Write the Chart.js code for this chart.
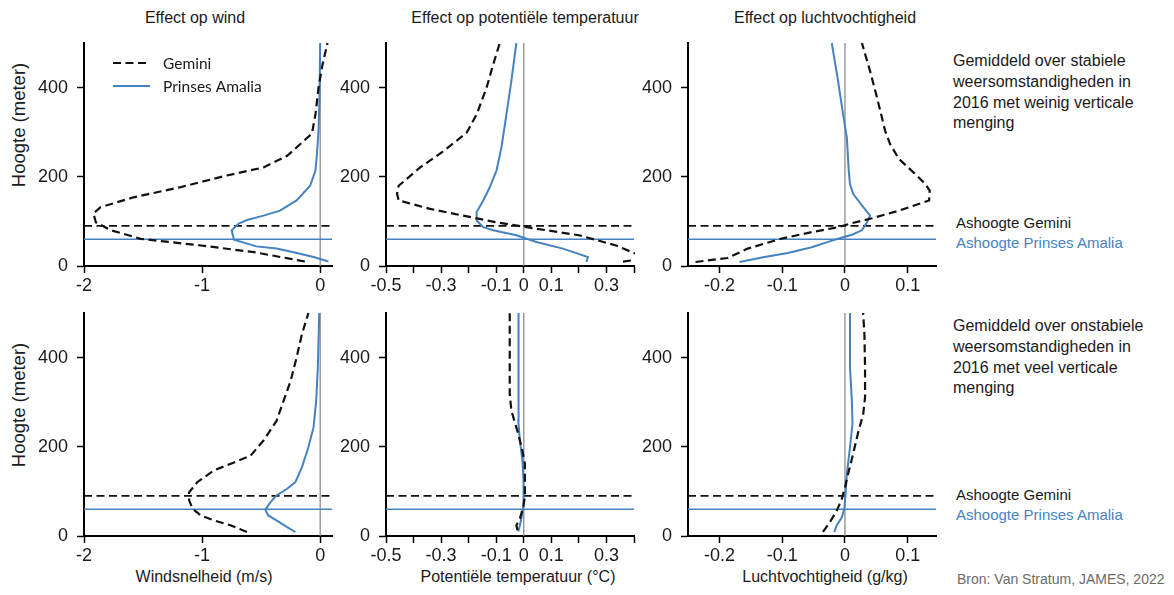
<!DOCTYPE html>
<html><head><meta charset="utf-8">
<script src="https://cdn.jsdelivr.net/npm/chart.js@4.4.1/dist/chart.umd.min.js"></script>
<style>
html,body{margin:0;padding:0;background:#fff;width:1174px;height:595px;overflow:hidden;font-family:'Liberation Sans',Arial,sans-serif;color:#1a1a1a;}
canvas{position:absolute;}
.t{position:absolute;white-space:nowrap;}
.ctr{transform:translate(-50%,-50%);}
.rot{transform:translate(-50%,-50%) rotate(-90deg);}
</style></head><body>

<div class="t ctr" style="left:195px;top:18px;font-size:16px;">Effect op wind</div>
<div class="t ctr" style="left:525px;top:18px;font-size:16px;">Effect op potentiële temperatuur</div>
<div class="t ctr" style="left:825px;top:18px;font-size:16px;">Effect op luchtvochtigheid</div>

<div class="t rot" style="left:19px;top:125px;font-size:18.5px;">Hoogte (meter)</div>
<div class="t rot" style="left:19px;top:405px;font-size:18.5px;">Hoogte (meter)</div>

<div class="t ctr" style="left:204px;top:577px;font-size:16px;">Windsnelheid (m/s)</div>
<div class="t ctr" style="left:518px;top:577px;font-size:16px;">Potentiële temperatuur (°C)</div>
<div class="t ctr" style="left:825px;top:577px;font-size:16px;">Luchtvochtigheid (g/kg)</div>

<div class="t" style="left:953px;top:51px;font-size:16px;line-height:20.8px;">Gemiddeld over stabiele<br>weersomstandigheden in<br>2016 met weinig verticale<br>menging</div>
<div class="t" style="left:956px;top:213px;font-size:15px;line-height:19.6px;">Ashoogte Gemini<br><span style="color:#4a82c3">Ashoogte Prinses Amalia</span></div>

<div class="t" style="left:953px;top:316px;font-size:16px;line-height:20.8px;">Gemiddeld over onstabiele<br>weersomstandigheden in<br>2016 met veel verticale<br>menging</div>
<div class="t" style="left:956px;top:485px;font-size:15px;line-height:19.6px;">Ashoogte Gemini<br><span style="color:#4a82c3">Ashoogte Prinses Amalia</span></div>

<div class="t" style="left:957px;top:571px;font-size:14px;line-height:17px;color:#6b6b6b;">Bron: Van Stratum, JAMES, 2022</div>

<canvas id="p1"></canvas><canvas id="p2"></canvas><canvas id="p3"></canvas>
<canvas id="p4"></canvas><canvas id="p5"></canvas><canvas id="p6"></canvas>

<script>
// ---------- DATA (x = effect, y = height in m) ----------
const hubHeightGemini = 90;
const hubHeightAmalia = 60;
const seriesNames = ['Gemini', 'Prinses Amalia'];

const heightTicks = [0, 200, 400];
const heightRange = [0, 500];

const windRange = [-2, 0.1];
const windTicks = [-2, -1, 0];
const windTickLabels = ['-2', '-1', '0'];

const tempRange = [-0.5, 0.4];
const tempTicks = [-0.5, -0.4, -0.3, -0.2, -0.1, 0, 0.1, 0.2, 0.3, 0.4];
const tempTickLabels = ['-0.5', '', '-0.3', '', '-0.1', '0', '0.1', '', '0.3', ''];

const humRange = [-0.25, 0.145];
const humTicks = [-0.2, -0.1, 0, 0.1];
const humTickLabels = ['-0.2', '-0.1', '0', '0.1'];

// stable conditions
const windStableGemini = [[-0.13,10],[-0.25,16],[-0.56,31],[-1.01,46],[-1.52,61],[-1.77,80],[-1.90,98],[-1.92,118],[-1.86,132],[-1.58,154],[-1.18,177],[-0.79,203],[-0.48,221],[-0.28,247],[-0.17,273],[-0.07,297],[-0.04,340],[-0.014,400],[0.02,452],[0.062,500]];
const windStableAmalia = [[0.07,10],[-0.056,20],[-0.225,31],[-0.37,39],[-0.54,44],[-0.73,59],[-0.75,80],[-0.69,95],[-0.62,103],[-0.48,113],[-0.34,124],[-0.20,147],[-0.085,180],[-0.04,214],[-0.03,244],[-0.014,303],[-0.006,378],[0,500]];
const tempStableGemini = [[0.36,10],[0.46,18],[0.40,29],[0.335,46],[0.20,69],[0.01,87],[-0.10,98],[-0.22,113],[-0.34,128],[-0.454,147],[-0.46,162],[-0.454,180],[-0.376,221],[-0.29,258],[-0.207,299],[-0.171,340],[-0.135,400],[-0.111,452],[-0.087,500]];
const tempStableAmalia = [[0.227,9],[0.233,20],[0.142,39],[0.046,54],[-0.027,69],[-0.111,80],[-0.147,87],[-0.171,102],[-0.171,121],[-0.147,147],[-0.123,177],[-0.099,214],[-0.081,266],[-0.063,340],[-0.045,415],[-0.027,500]];
const humStableGemini = [[-0.238,9],[-0.187,18],[-0.155,39],[-0.102,61],[-0.053,76],[-0.011,87],[0.011,96],[0.043,107],[0.086,124],[0.134,147],[0.135,169],[0.128,184],[0.112,206],[0.086,240],[0.072,273],[0.064,303],[0.051,378],[0.040,437],[0.027,500]];
const humStableAmalia = [[-0.168,9],[-0.128,20],[-0.091,29],[-0.053,42],[-0.027,54],[-0.011,61],[0.011,70],[0.027,80],[0.035,98],[0.040,113],[0.027,136],[0.013,162],[0.008,184],[0.006,214],[0.003,288],[-0.003,340],[-0.011,415],[-0.021,500]];

// unstable conditions
const windUnstableGemini = [[-0.62,9],[-0.76,24],[-0.90,35],[-1.01,46],[-1.08,61],[-1.11,80],[-1.11,98],[-1.04,121],[-0.90,147],[-0.73,165],[-0.59,180],[-0.48,214],[-0.37,258],[-0.31,303],[-0.25,348],[-0.20,400],[-0.155,452],[-0.10,500]];
const windUnstableAmalia = [[-0.21,9],[-0.28,20],[-0.37,35],[-0.44,46],[-0.465,59],[-0.42,76],[-0.37,91],[-0.28,106],[-0.21,121],[-0.155,154],[-0.10,199],[-0.056,244],[-0.034,303],[-0.02,378],[-0.008,500]];
const tempUnstableGemini = [[-0.023,13],[-0.027,24],[-0.014,39],[-0.002,65],[0.004,87],[0.004,124],[0.004,162],[-0.005,191],[-0.02,229],[-0.045,281],[-0.051,318],[-0.051,378],[-0.051,452],[-0.051,500]];
const tempUnstableAmalia = [[-0.02,10],[-0.014,24],[-0.008,42],[-0.002,65],[0,87],[-0.002,124],[-0.005,169],[-0.014,214],[-0.02,258],[-0.02,378],[-0.018,500]];
const humUnstableGemini = [[-0.035,9],[-0.024,31],[-0.013,57],[-0.005,83],[0,109],[0.005,139],[0.013,184],[0.021,232],[0.029,273],[0.032,311],[0.032,378],[0.031,452],[0.029,500]];
const humUnstableAmalia = [[-0.017,9],[-0.013,24],[-0.005,42],[-0.001,61],[0.001,95],[0.003,139],[0.008,199],[0.012,251],[0.011,303],[0.008,378],[0.008,500]];

// ---------- STYLE / LAYOUT ----------
const BLUE = '#4682c0';
const BLACK = '#111';
const GREY = '#8c8c8c';
const PLOT_W = 248, PLOT_H = 223, AX_W = 64, PAD_T = 24, PAD_R = 12, AX_H = 40;
const colLeft = [84, 386, 688];
const rowTop = [43, 313];
const tickFont = {family: "'Liberation Sans', Arial, sans-serif", size: 18};

const toXY = arr => arr.map(p => ({x: p[0], y: p[1]}));

const inlineLegend = {
  id: 'inlineLegend',
  afterDatasetsDraw(chart) {
    const {ctx, chartArea: a} = chart;
    ctx.save();
    ctx.font = "15.5px Lato, 'Open Sans', sans-serif";
    ctx.textBaseline = 'middle';
    ctx.fillStyle = '#1a1a1a';
    const rows = [
      {y: a.top + 20, color: BLACK, dash: [8, 4.5], w: 2.2},
      {y: a.top + 43, color: BLUE, dash: [], w: 2}
    ];
    rows.forEach((r, i) => {
      ctx.beginPath();
      ctx.setLineDash(r.dash);
      ctx.lineWidth = r.w;
      ctx.strokeStyle = r.color;
      ctx.moveTo(a.left + 29, r.y);
      ctx.lineTo(a.left + 66, r.y);
      ctx.stroke();
      ctx.setLineDash([]);
      ctx.fillText(seriesNames[i], a.left + 79, r.y + 1);
    });
    ctx.restore();
  }
};

function makePanel(id, col, row, range, ticks, labels, gem, ama, withLegend) {
  const cv = document.getElementById(id);
  const W = AX_W + PLOT_W + PAD_R, H = PAD_T + PLOT_H + AX_H;
  cv.width = W; cv.height = H;
  cv.style.width = W + 'px'; cv.style.height = H + 'px';
  cv.style.left = (colLeft[col] - AX_W) + 'px';
  cv.style.top = (rowTop[row] - PAD_T) + 'px';
  const line = (data, color, width, dash) => ({
    data, showLine: true, borderColor: color, borderWidth: width, borderDash: dash,
    pointRadius: 0, pointHoverRadius: 0, tension: 0, fill: false, clip: 1, borderCapStyle: 'butt'
  });
  new Chart(cv, {
    type: 'scatter',
    data: {
      datasets: [
        line(toXY(gem), BLACK, 2.2, [8, 4.5]),
        line(toXY(ama), BLUE, 2, []),
        line([{x: range[0], y: hubHeightGemini}, {x: range[1], y: hubHeightGemini}], BLACK, 1.8, [8, 4.5]),
        line([{x: range[0], y: hubHeightAmalia}, {x: range[1], y: hubHeightAmalia}], BLUE, 1.6, []),
        line([{x: 0, y: heightRange[0]}, {x: 0, y: heightRange[1]}], GREY, 1.3, [])
      ]
    },
    options: {
      responsive: false,
      animation: false,
      events: [],
      layout: {padding: {top: PAD_T, right: PAD_R, left: 0, bottom: 0}},
      plugins: {legend: {display: false}, tooltip: {enabled: false}},
      scales: {
        x: {
          type: 'linear', min: range[0], max: range[1],
          afterBuildTicks: ax => { ax.ticks = ticks.map(v => ({value: v})); },
          afterFit: ax => { ax.height = AX_H; },
          ticks: {autoSkip: false, maxRotation: 0, minRotation: 0, padding: 2, color: '#1a1a1a', font: tickFont,
                  callback: (v, i) => labels[i]},
          grid: {display: true, drawOnChartArea: false, drawTicks: true, tickLength: 7, tickColor: '#000', tickWidth: 1.5},
          border: {display: true, color: '#000', width: 2}
        },
        y: {
          type: 'linear', min: heightRange[0], max: heightRange[1],
          afterBuildTicks: ax => { ax.ticks = heightTicks.map(v => ({value: v})); },
          afterFit: ax => { ax.width = AX_W; },
          ticks: {padding: 9, color: '#1a1a1a', font: tickFont, callback: v => String(v)},
          grid: {display: true, drawOnChartArea: false, drawTicks: true, tickLength: 7, tickColor: '#000', tickWidth: 1.5},
          border: {display: true, color: '#000', width: 2}
        }
      }
    },
    plugins: withLegend ? [inlineLegend] : []
  });
}

makePanel('p1', 0, 0, windRange, windTicks, windTickLabels, windStableGemini, windStableAmalia, true);
makePanel('p2', 1, 0, tempRange, tempTicks, tempTickLabels, tempStableGemini, tempStableAmalia, false);
makePanel('p3', 2, 0, humRange, humTicks, humTickLabels, humStableGemini, humStableAmalia, false);
makePanel('p4', 0, 1, windRange, windTicks, windTickLabels, windUnstableGemini, windUnstableAmalia, false);
makePanel('p5', 1, 1, tempRange, tempTicks, tempTickLabels, tempUnstableGemini, tempUnstableAmalia, false);
makePanel('p6', 2, 1, humRange, humTicks, humTickLabels, humUnstableGemini, humUnstableAmalia, false);
</script>
</body></html>
